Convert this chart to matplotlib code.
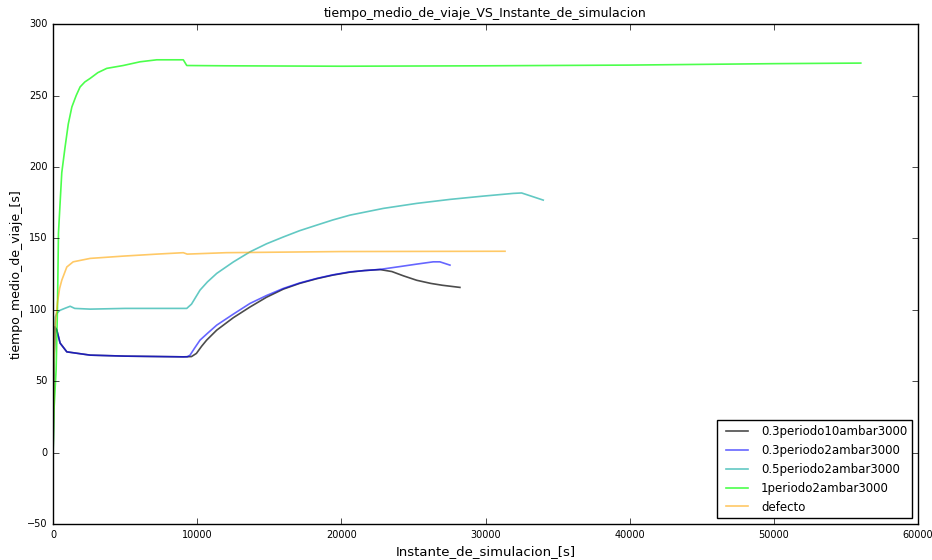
import matplotlib
matplotlib.use("Agg")
import matplotlib.pyplot as plt

plt.style.use("classic")

# 0.3periodo10ambar3000
x_k = [0, 60, 120, 256, 485, 950, 2570, 5000, 9030, 9600, 9940, 10300, 10650, 11350,
       12500, 13660, 14800, 15970, 17100, 18290, 19400, 20600, 21600, 22680, 23500,
       24300, 25220, 26200, 27000, 28220]
y_k = [0, 65, 88, 85.8, 76.7, 70.6, 68.3, 67.6, 67.1, 67.3, 69.5, 74.5, 78.8, 85.8,
       94.5, 102, 108.8, 114.5, 118.5, 121.8, 124.3, 126.4, 127.5, 128.2, 126.8,
       123.8, 120.7, 118.5, 117.2, 115.7]

# 0.3periodo2ambar3000
x_b = [0, 60, 120, 256, 485, 950, 2570, 5000, 9030, 9300, 9500, 9800, 10190, 10700,
       11350, 12500, 13660, 14800, 15970, 17100, 18290, 19400, 20600, 21600, 22680,
       24000, 25220, 26370, 26830, 27530]
y_b = [0, 65, 88, 85.8, 76.7, 70.6, 68.3, 67.6, 67.1, 67.1, 68.3, 73, 78.8, 83.5,
       89.3, 97, 104.5, 110, 115, 118.8, 122, 124.5, 126.6, 127.5, 128.3,
       130.2, 132, 133.6, 133.6, 131.3]

# 0.5periodo2ambar3000
x_t = [0, 60, 150, 256, 485, 800, 1180, 1500, 2570, 5000, 9030, 9270, 9600, 10190,
       10700, 11350, 12500, 13660, 14800, 15970, 17100, 18290, 19400, 20600, 22910,
       25220, 27530, 29840, 31920, 32500, 34000]
y_t = [0, 60, 95, 97.6, 99.7, 101, 102.5, 101, 100.5, 101, 101, 101, 104, 113.8,
       119.5, 125.5, 133.5, 140.6, 146.2, 151, 155.4, 159.3, 162.9, 166.3, 171,
       174.5, 177.3, 179.6, 181.5, 181.8, 176.8]

# 1periodo2ambar3000
x_g = [0, 60, 208, 300, 370, 485, 600, 830, 1050, 1300, 1600, 1870, 2200, 2570, 3100,
       3720, 4860, 6030, 7190, 9030, 9270, 12000, 20000, 30000, 40000, 50000, 56030]
y_g = [0, 30, 58, 100, 153.7, 175, 196, 214, 230, 242, 250, 256, 259.5, 262, 266,
       269, 271, 273.6, 275, 275, 271, 270.8, 270.5, 270.8, 271.3, 272.3, 272.7]

# defecto
x_o = [0, 60, 150, 300, 450, 600, 950, 1390, 2570, 4860, 7190, 9030, 9300, 12000,
       20000, 31350]
y_o = [0, 65, 90, 105, 115, 120.7, 130, 133.6, 136, 137.6, 139, 140, 139, 140,
       140.8, 141]

series = [
    (x_k, y_k, "0.3periodo10ambar3000", "k", 0.7),
    (x_b, y_b, "0.3periodo2ambar3000", "b", 0.6),
    (x_t, y_t, "0.5periodo2ambar3000", "#20b2aa", 0.7),
    (x_g, y_g, "1periodo2ambar3000", "#00ff00", 0.7),
    (x_o, y_o, "defecto", "orange", 0.6),
]

fig = plt.figure(figsize=(9.32, 5.6), dpi=100, facecolor="white")
ax = fig.add_axes([0.057, 0.064, 0.928, 0.893])

for xs, ys, label, color, alpha in series:
    ax.plot(xs, ys, color=color, alpha=alpha, lw=1.2, label=label)

ax.set_xlim(0, 60000)
ax.set_ylim(-50, 300)
ax.tick_params(labelsize=7)
ax.set_title("tiempo_medio_de_viaje_VS_Instante_de_simulacion", fontsize=9)
ax.set_xlabel("Instante_de_simulacion_[s]", fontsize=9.5, labelpad=4)
ax.set_ylabel("tiempo_medio_de_viaje_[s]", fontsize=9)
ax.yaxis.set_label_coords(-0.035, 0.5)
ax.legend(loc="lower right", fontsize=8.5, handlelength=2.5)

fig.savefig("out.png", dpi=100, facecolor="white")
